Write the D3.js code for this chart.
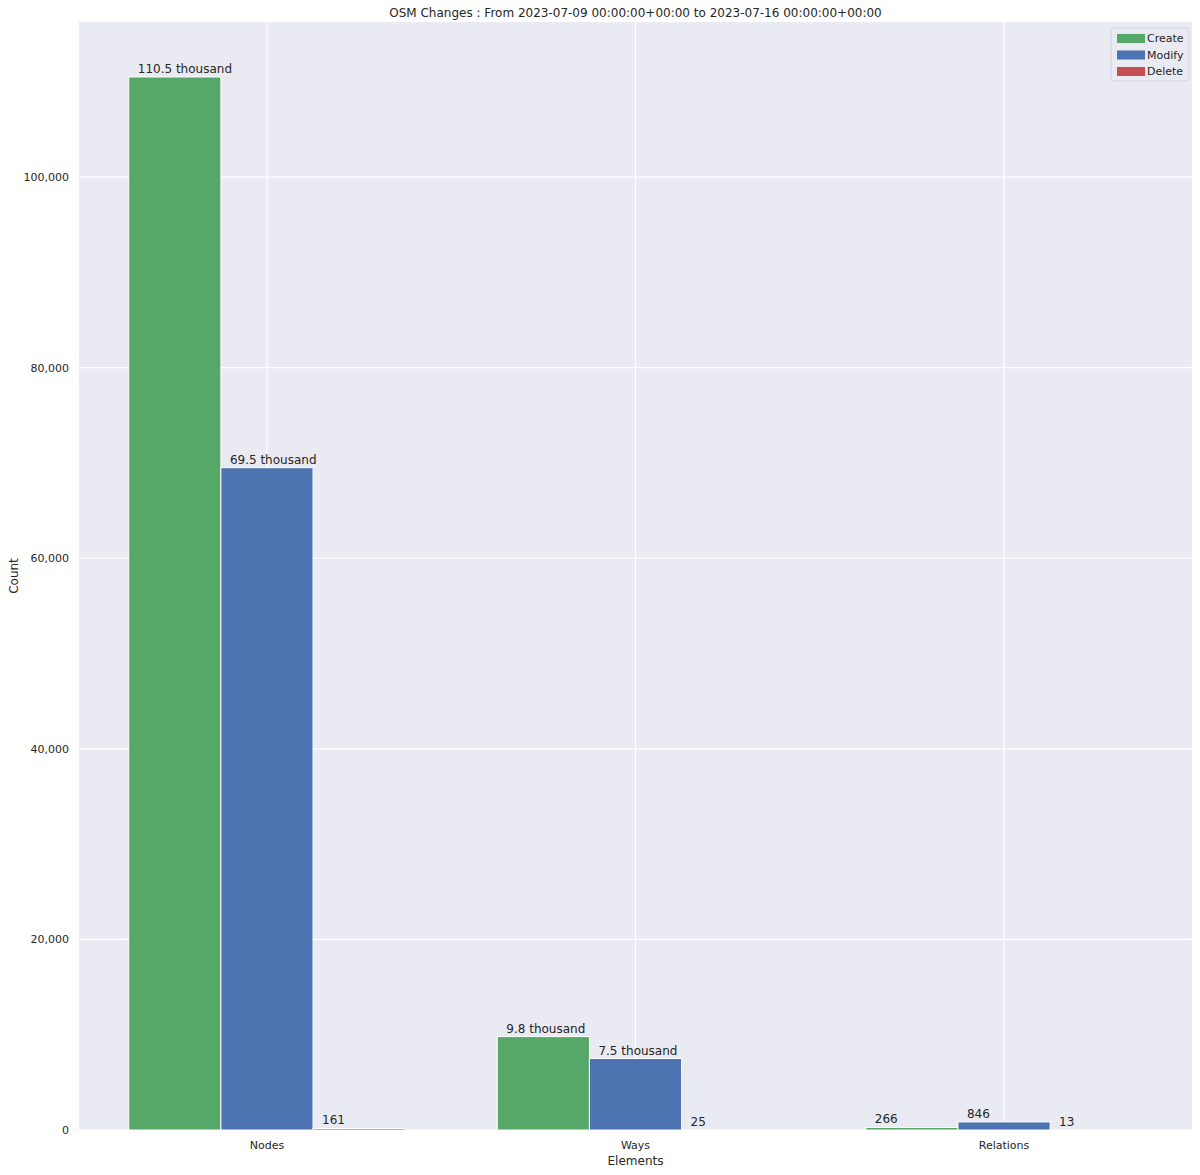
<!DOCTYPE html>
<html><head><meta charset="utf-8">
<script src="https://cdn.jsdelivr.net/npm/d3@7"></script>
<style>body{margin:0;background:#fff}text{font-family:"DejaVu Sans",sans-serif;fill:#262626}</style>
</head><body><svg id="c" width="1200" height="1175"></svg>
<script>
const categories=["Nodes","Ways","Relations"];
const seriesNames=["Create","Modify","Delete"];
const create=[110500,9800,266];
const modify=[69500,7500,846];
const del=[161,25,13];
const labelsCreate=["110.5 thousand","9.8 thousand","266"];
const labelsModify=["69.5 thousand","7.5 thousand","846"];
const labelsDelete=["161","25","13"];
const yTicks=[0,20000,40000,60000,80000,100000];
const colors=["#55a868","#4c72b0","#c44e52"];

const svg=d3.select("#c");
const L=79,R=1192,T=22,B=1130;
const x=d3.scaleLinear().domain([-0.51,2.51]).range([L,R]);
const y=d3.scaleLinear().domain([0,116270]).range([B,T]);
svg.append("rect").attr("x",L).attr("y",T).attr("width",R-L).attr("height",B-T).attr("fill","#eaeaf2");
yTicks.forEach(t=>svg.append("line").attr("x1",L).attr("x2",R).attr("y1",y(t)).attr("y2",y(t)).attr("stroke","#fff").attr("stroke-width",1.2));
categories.forEach((c,i)=>svg.append("line").attr("x1",x(i)).attr("x2",x(i)).attr("y1",T).attr("y2",B).attr("stroke","#fff").attr("stroke-width",1.2));
const w=x(0.25)-x(0);
const data=[create,modify,del], labs=[labelsCreate,labelsModify,labelsDelete];
data.forEach((s,k)=>{
  s.forEach((v,i)=>{
    const x0=x(i)+(k-1.5)*w;
    svg.append("rect").attr("x",x0).attr("y",y(v)).attr("width",w).attr("height",B-y(v)).attr("fill",colors[k]).attr("stroke","#fff").attr("stroke-width",1);
    svg.append("text").attr("x",x0+9).attr("y",y(v)-4).attr("font-size",12).text(labs[k][i]);
  });
});
const fmt=d3.format(",");
yTicks.forEach(t=>svg.append("text").attr("x",L-10).attr("y",y(t)+4).attr("text-anchor","end").attr("font-size",11).text(fmt(t)));
categories.forEach((c,i)=>svg.append("text").attr("x",x(i)).attr("y",B+19).attr("text-anchor","middle").attr("font-size",11).text(c));
svg.append("text").attr("x",(L+R)/2).attr("y",1165).attr("text-anchor","middle").attr("font-size",12).text("Elements");
svg.append("text").attr("transform",`translate(18,${(T+B)/2}) rotate(-90)`).attr("text-anchor","middle").attr("font-size",12).text("Count");
svg.append("text").attr("x",(L+R)/2).attr("y",17).attr("text-anchor","middle").attr("font-size",12).text("OSM Changes : From 2023-07-09 00:00:00+00:00 to 2023-07-16 00:00:00+00:00");
const lg=svg.append("g").attr("transform","translate(1111,28)");
lg.append("rect").attr("width",78).attr("height",53).attr("rx",3).attr("fill","#eaeaf2").attr("stroke","#d0d0d8").attr("opacity",0.9);
seriesNames.forEach((n,k)=>{
  lg.append("rect").attr("x",6).attr("y",6+k*16.5).attr("width",28).attr("height",9).attr("fill",colors[k]);
  lg.append("text").attr("x",36).attr("y",14+k*16.5).attr("font-size",11).text(n);
});
</script></body></html>
